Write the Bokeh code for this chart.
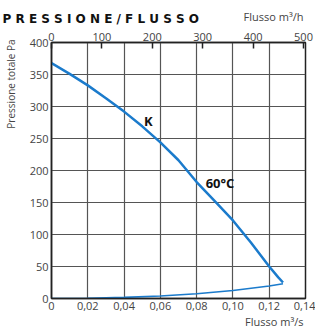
import math
from bokeh.plotting import figure
from bokeh.models import (LinearAxis, Range1d, FixedTicker, CustomJSTickFormatter, Label)
from bokeh.embed import file_html
from bokeh.resources import INLINE

# Data
fan_flow = [0.0, 0.01, 0.02, 0.03, 0.04, 0.05, 0.06, 0.07, 0.08, 0.09, 0.10, 0.11, 0.12, 0.125, 0.1276]
fan_pressure = [368, 351, 333, 313, 292, 269, 244, 216, 182, 152, 122, 87, 50, 33, 25]
sys_flow = [0.0, 0.02, 0.04, 0.06, 0.08, 0.10, 0.12, 0.1276]
sys_pressure = [0, 0.5, 1.8, 4, 7.5, 12.5, 19.5, 23]
x_ticks = [0, 0.02, 0.04, 0.06, 0.08, 0.10, 0.12, 0.14]
y_ticks = [0, 50, 100, 150, 200, 250, 300, 350, 400]
top_ticks = [0, 100, 200, 300, 400, 500]

FONT = "Open Sans"
BLUE = "#1b7bcc"

p = figure(width=315, height=329, x_range=(0, 0.14), y_range=(0, 400),
           output_backend="svg", toolbar_location=None,
           min_border_left=51, min_border_right=10, min_border_top=42, min_border_bottom=31)
p.outline_line_color = "#222222"
p.outline_line_width = 1.5
p.background_fill_color = "white"

p.extra_x_ranges = {"m3h": Range1d(0, 504)}
top = LinearAxis(x_range_name="m3h", ticker=FixedTicker(ticks=top_ticks))
p.add_layout(top, "above")

bottom = p.below[0]
left = p.left[0]

for ax in [bottom, left, top]:
    ax.major_tick_out = 0
    ax.major_tick_in = 0
    ax.minor_tick_out = 0
    ax.minor_tick_in = 0
    ax.axis_line_color = "#222222"
    ax.axis_line_width = 1.5
    ax.major_label_text_font = FONT
    ax.major_label_text_font_size = "11px"
    ax.major_label_text_color = "#444444"
    ax.major_label_standoff = 3
top.major_tick_in = 6
top.major_tick_line_color = "#222222"
top.major_tick_line_width = 1.5
top.major_label_standoff = 2

bottom.ticker = FixedTicker(ticks=x_ticks)
bottom.formatter = CustomJSTickFormatter(code="return tick == 0 ? '0' : tick.toFixed(2).replace('.', ',');")
left.ticker = FixedTicker(ticks=y_ticks)

p.xgrid.ticker = FixedTicker(ticks=x_ticks)
p.ygrid.ticker = FixedTicker(ticks=y_ticks)
for g in [p.xgrid[0], p.ygrid[0]]:
    g.grid_line_color = "#555555"
    g.grid_line_width = 1.2

p.line(fan_flow, fan_pressure, line_color=BLUE, line_width=2.5)
p.line(sys_flow, sys_pressure, line_color=BLUE, line_width=1.6)

p.add_layout(Label(x=0.0533, y=278, text="K", text_font=FONT, text_font_style="bold",
                   text_font_size="13px", text_align="center", text_baseline="middle", text_color="#111111"))
p.add_layout(Label(x=0.0929, y=181, text="60°C", text_font=FONT, text_font_style="bold",
                   text_font_size="13px", text_align="center", text_baseline="middle", text_color="#111111"))

# Outside texts placed in side panels (screen units relative to their panel)
p.add_layout(Label(x=-49, y=11, x_units="screen", y_units="screen",
                   text="P R E S S I O N E / F L U S S O", text_font="DejaVu Sans",
                   text_font_style="bold", text_font_size="12px", text_align="left",
                   text_baseline="middle", text_color="#111111"), "above")
p.add_layout(Label(x=252, y=-1, x_units="screen", y_units="screen",
                   text="Flusso m³/h", text_font=FONT, text_font_size="11px",
                   text_align="right", text_baseline="middle", text_color="#444444"), "above")
p.add_layout(Label(x=252, y=6, x_units="screen", y_units="screen",
                   text="Flusso m³/s", text_font=FONT, text_font_size="11px",
                   text_align="right", text_baseline="middle", text_color="#444444"), "below")
p.add_layout(Label(x=-2, y=259, x_units="screen", y_units="screen", angle=math.pi / 2,
                   text="Pressione totale Pa", text_font=FONT, text_font_size="10px",
                   text_align="right", text_baseline="middle", text_color="#444444"), "left")

open("out.html", "w").write(file_html(p, INLINE))
